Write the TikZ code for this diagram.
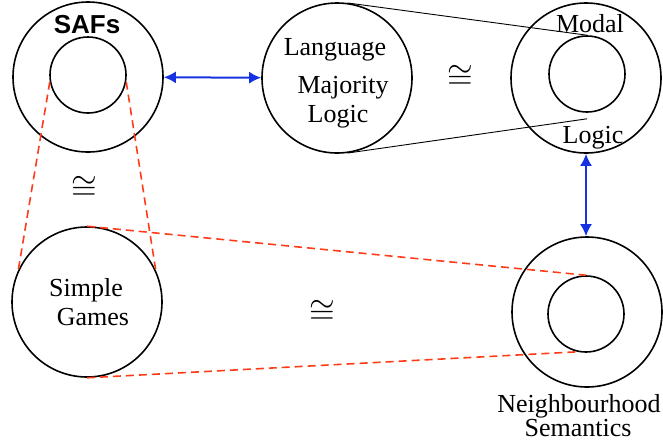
\documentclass[tikz,border=0pt]{standalone}
\usepackage{fontspec}
\setmainfont{Liberation Serif}
\newfontfamily\labelsans{Liberation Sans}
\usetikzlibrary{arrows.meta}
\definecolor{linkblue}{RGB}{20,50,225}
\definecolor{dashred}{RGB}{255,60,25}

\begin{document}
\begin{tikzpicture}[
			x=1pt, y=-1pt,
			every node/.style={
				inner sep=0pt,
				font=\fontsize{26}{28}\selectfont
			},
			ring/.style={draw,circle,line width=1.6pt,minimum size=150pt},
			core/.style={draw,circle,line width=1.6pt,minimum size=76pt},
			iso/.style={font=\normalsize,scale=3.3},
			arrow/.style={{Latex[length=12pt,width=12pt]}-{Latex[length=12pt,width=12pt]},linkblue,line width=2pt},
			redlink/.style={dashred,dash pattern=on 8pt off 5pt,line width=1.6pt},
			plainline/.style={black,line width=0.9pt}
			]
			\useasboundingbox (0,0) rectangle (663,440);
			
			\node[ring] (safs) at (88,77) {};
			\node[core] (safsin) at (88,75) {};
			\node[ring] (lang) at (337,78) {};
			\node[ring] (modal) at (586,78) {};
			\node[core] (modalin) at (587,74) {};
			\node[ring] (games) at (87,302) {};
			\node[ring] (nbhd) at (587,312) {};
			\node[core] (nbhdin) at (586,314) {};
			
			\node[anchor=base,font=\labelsans\bfseries\fontsize{26}{28}\selectfont] (safstext) at (87,33) {SAFs};
			\node[anchor=base] (langtext) at (335,55) {Language};
			\node[anchor=base] (majtext) at (343,93) {Majority};
			\node[anchor=base] (majlogic) at (338,122) {Logic};
			\node[anchor=base] (modaltext) at (590,32) {Modal};
			\node[anchor=base] (modallogic) at (593,143) {Logic};
			\node[anchor=base] (simpletext) at (86,296) {Simple};
			\node[anchor=base] (gamestext) at (93,325) {Games};
			\node[anchor=base] (nbtext) at (579,412) {Neighbourhood};
			\node[anchor=base] (semtext) at (578,436) {Semantics};
			
			\node[iso] (isotop) at (460,77) {$\cong$};
			\node[iso] (isoleft) at (84,188) {$\cong$};
			\node[iso] (isomid) at (322,312) {$\cong$};
			
			\draw[arrow] (safs) -- (lang);
			\draw[arrow] (modal.south) -- (modal.south |- nbhd.north);
			
			\draw[plainline] (lang.82) -- (modalin.north);
			\draw[plainline] (lang.-82) -- ([yshift=-6pt]modalin.south);
			
			\draw[redlink] (safsin.190) -- (games.155);
			\draw[redlink] (safsin.-10) -- (games.25);
			\draw[redlink] (games.north) -- (nbhdin.north);
			\draw[redlink] (games.south) -- (nbhdin.-103);
			
		\end{tikzpicture}
\end{document}
